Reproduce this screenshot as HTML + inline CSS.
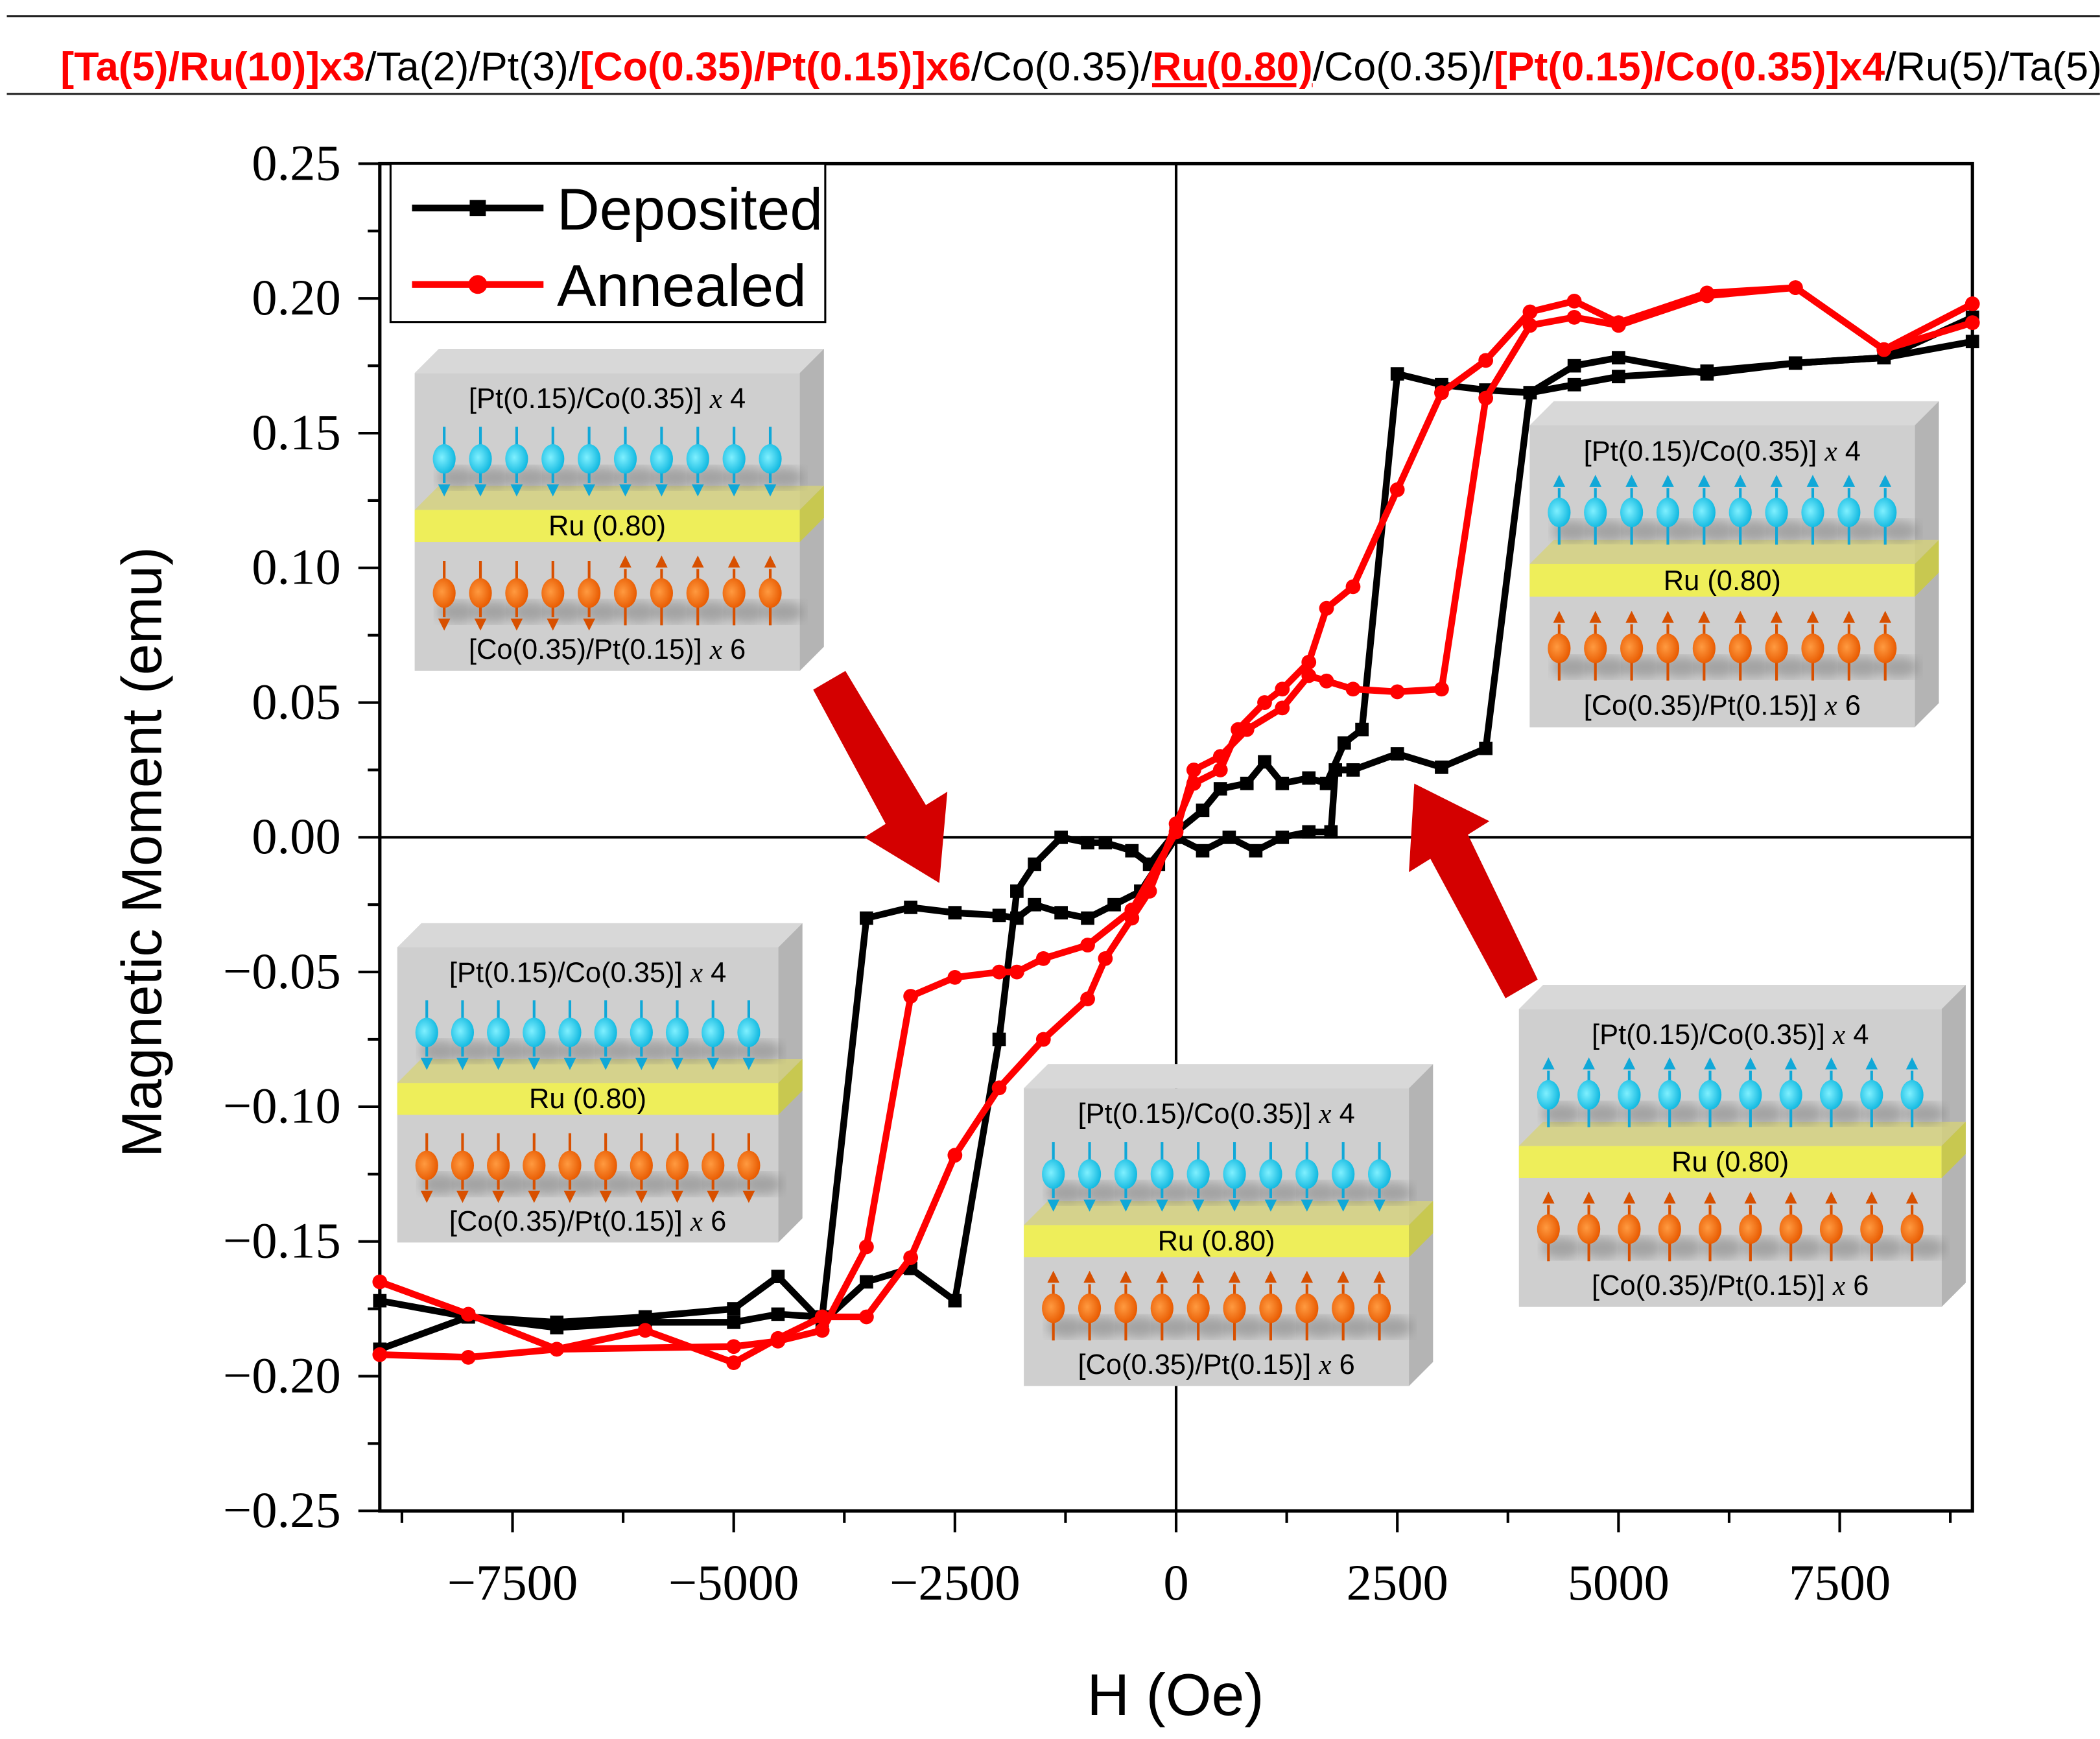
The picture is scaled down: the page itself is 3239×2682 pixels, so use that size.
<!DOCTYPE html>
<html><head><meta charset="utf-8"><style>html,body{margin:0;padding:0;background:#fff}svg{display:block}</style></head>
<body>
<svg id="fig" width="3239" height="2682" viewBox="0 0 1565 1296" xmlns="http://www.w3.org/2000/svg">
<defs>
<radialGradient id="gb" cx="0.4" cy="0.45" r="0.6"><stop offset="0" stop-color="#7ff0ff"/><stop offset="1" stop-color="#10b8e0"/></radialGradient>
<radialGradient id="go" cx="0.4" cy="0.45" r="0.6"><stop offset="0" stop-color="#ff9a40"/><stop offset="1" stop-color="#e85a00"/></radialGradient>
<filter id="blur"><feGaussianBlur stdDeviation="4"/></filter>
</defs>
<g>
<line x1="5" y1="12" x2="1565" y2="12" stroke="#222" stroke-width="1.5"/>
<line x1="5" y1="70" x2="1565" y2="70" stroke="#222" stroke-width="1.5"/>
<text x="45" y="60" font-family="Liberation Sans Narrow, Liberation Sans, sans-serif" font-size="30" textLength="1530" lengthAdjust="spacingAndGlyphs"><tspan fill="#f00" font-weight="bold">[Ta(5)/Ru(10)]x3</tspan><tspan>/Ta(2)/Pt(3)/</tspan><tspan fill="#f00" font-weight="bold">[Co(0.35)/Pt(0.15)]x6</tspan><tspan>/Co(0.35)/</tspan><tspan fill="#f00" font-weight="bold" text-decoration="underline">Ru(0.80)</tspan><tspan>/Co(0.35)/</tspan><tspan fill="#f00" font-weight="bold">[Pt(0.15)/Co(0.35)]x4</tspan><tspan>/Ru(5)/Ta(5)/</tspan></text>
</g>
<g id="axes"></g>
<g id="insets"></g>
<g id="series"></g>
<g id="legend">
<rect x="291" y="122" width="324" height="118" fill="#fff" stroke="#000" stroke-width="1.5"/>
<line x1="307" y1="155" x2="405" y2="155" stroke="#000" stroke-width="5"/>
<rect x="350" y="149" width="12" height="12" fill="#000"/>
<text x="415" y="171" font-family="Liberation Sans, sans-serif" font-size="44">Deposited</text>
<line x1="307" y1="212" x2="405" y2="212" stroke="#f00" stroke-width="5"/>
<circle cx="356" cy="212" r="7" fill="#f00"/>
<text x="415" y="228" font-family="Liberation Sans, sans-serif" font-size="44">Annealed</text>
</g>
<g fill="#d40000">
<polygon points="606,514 630,500 690,600 706,590 700,658 644,624 660,614"/>
<polygon points="1146,730 1122,744 1066,640 1050,650 1054,584 1110,612 1094,622"/>
</g>
<text transform="translate(120,635) rotate(-90)" text-anchor="middle" font-family="Liberation Sans, sans-serif" font-size="42">Magnetic Moment (emu)</text>
<text x="876" y="1278" text-anchor="middle" font-family="Liberation Sans, sans-serif" font-size="44">H (Oe)</text>
</svg>
<script>
const xTicks=[-7500,-5000,-2500,0,2500,5000,7500];
const xTickLabels=["\u22127500","\u22125000","\u22122500","0","2500","5000","7500"];
const yTicks=[-0.25,-0.2,-0.15,-0.1,-0.05,0,0.05,0.1,0.15,0.2,0.25];
const yTickLabels=["\u22120.25","\u22120.20","\u22120.15","\u22120.10","\u22120.05","0.00","0.05","0.10","0.15","0.20","0.25"];
const depA_H=[9000,8000,7000,6000,5000,4500,4000,3500,3000,2500,2100,1900,1700,1500,1200,1000,800,500,300,0,-300,-500,-800,-1000,-1300,-1600,-1800,-2000,-2500,-3000,-3500,-4000,-4500,-5000,-6000,-7000,-8000,-9000];
const depA_M=[0.193,0.178,0.176,0.172,0.178,0.175,0.165,0.166,0.168,0.172,0.04,0.035,0.02,0.022,0.02,0.028,0.02,0.018,0.01,0.002,-0.01,-0.005,-0.002,-0.002,0,-0.01,-0.02,-0.075,-0.172,-0.16,-0.165,-0.18,-0.163,-0.175,-0.178,-0.18,-0.178,-0.19];
const depB_H=[-9000,-8000,-7000,-6000,-5000,-4500,-4000,-3500,-3000,-2500,-2000,-1800,-1600,-1300,-1000,-700,-400,-200,0,300,600,900,1200,1500,1750,1800,2000,2500,3000,3500,4000,4500,5000,6000,7000,8000,9000];
const depB_M=[-0.172,-0.178,-0.182,-0.18,-0.18,-0.177,-0.178,-0.03,-0.026,-0.028,-0.029,-0.03,-0.025,-0.028,-0.03,-0.025,-0.02,-0.01,0,-0.005,0,-0.005,0,0.002,0.002,0.025,0.025,0.031,0.026,0.033,0.165,0.168,0.171,0.173,0.176,0.178,0.184];
const annA_H=[9000,8000,7000,6000,5000,4500,4000,3500,3000,2500,2000,1700,1500,1200,1000,700,500,200,0,-300,-500,-800,-1000,-1500,-2000,-2500,-3000,-3500,-4000,-4500,-5000,-6000,-7000,-8000,-9000];
const annA_M=[0.198,0.181,0.204,0.202,0.191,0.199,0.195,0.177,0.165,0.129,0.093,0.085,0.065,0.055,0.05,0.04,0.025,0.02,0.005,-0.02,-0.03,-0.045,-0.06,-0.075,-0.093,-0.118,-0.156,-0.178,-0.178,-0.186,-0.195,-0.183,-0.19,-0.193,-0.192];
const annB_H=[-9000,-8000,-7000,-5000,-4500,-4000,-3500,-3000,-2500,-2000,-1800,-1500,-1000,-500,0,200,500,800,1200,1500,1700,2000,2500,3000,3500,4000,4500,5000,6000,7000,8000,9000];
const annB_M=[-0.165,-0.177,-0.19,-0.189,-0.187,-0.183,-0.152,-0.059,-0.052,-0.05,-0.05,-0.045,-0.04,-0.027,0.002,0.025,0.03,0.04,0.048,0.06,0.058,0.055,0.054,0.055,0.163,0.19,0.193,0.19,0.201,0.204,0.181,0.191];

const NS='http://www.w3.org/2000/svg';
const L=283,R=1470,T=122,B=1126;
const sx=h=>L+(h+9000)/18000*(R-L);
const sy=m=>B-(m+0.25)/0.5*(B-T);
function mk(tag,attrs,parent){const e=document.createElementNS(NS,tag);for(const k in attrs)e.setAttribute(k,attrs[k]);parent.appendChild(e);return e;}
const ax=document.getElementById('axes');
for(let h=-8750;h<=8750;h+=1250){const x=sx(h);const major=xTicks.includes(h);const t=mk('line',{x1:x,y1:B,x2:x,y2:B+(major?16:9),stroke:'#000','stroke-width':2},ax);}
for(let i=0;i<=20;i++){const m=-0.25+i*0.025;const y=sy(m);const major=i%2==0;const t=mk('line',{x1:L,y1:y,x2:L-(major?16:9),y2:y,stroke:'#000','stroke-width':2},ax);}
xTicks.forEach((h,i)=>{const t=mk('text',{x:sx(h),y:1192,'text-anchor':'middle','font-family':'Liberation Serif, serif','font-size':38},ax);t.textContent=xTickLabels[i];});
yTicks.forEach((m,i)=>{const t=mk('text',{x:254,y:sy(m)+12,'text-anchor':'end','font-family':'Liberation Serif, serif','font-size':38},ax);t.textContent=yTickLabels[i];});
const fr=mk('rect',{x:L,y:T,width:R-L,height:B-T,fill:'none',stroke:'#000','stroke-width':2.5},ax);

const zx=mk('line',{x1:sx(0),y1:T,x2:sx(0),y2:B,stroke:'#000','stroke-width':2},ax);

const zy=mk('line',{x1:L,y1:sy(0),x2:R,y2:sy(0),stroke:'#000','stroke-width':2},ax);


const ins=document.getElementById('insets');
const insetDefs=[[309,260,287,222,-1,[-1,-1,-1,-1,-1,1,1,1,1,1]],[296,688,284,220,-1,[-1,-1,-1,-1,-1,-1,-1,-1,-1,-1]],[763,793,287,222,-1,[1,1,1,1,1,1,1,1,1,1]],[1140,299,287,225,1,[1,1,1,1,1,1,1,1,1,1]],[1132,734,315,222,1,[1,1,1,1,1,1,1,1,1,1]]];
insetDefs.forEach(d=>{
 const [x0,y0,W,H,up,low]=d;const D=18;const k=H/222;
 const g=mk('g',{transform:`translate(${x0},${y0})`},ins);
 
 mk('polygon',{points:`0,${D} ${D},0 ${W+D},0 ${W},${D}`,fill:'#d8d8d8'},g);
 mk('polygon',{points:`${W},${D} ${W+D},0 ${W+D},${H} ${W},${H+D}`,fill:'#b4b4b4'},g);
 mk('rect',{x:0,y:D,width:W,height:H,fill:'#cfcfcf'},g);
 const by=D+102*k,bh=24*k;
 mk('polygon',{points:`0,${by} ${D},${by-D} ${W+D},${by-D} ${W},${by}`,fill:'#d6d27a',opacity:0.8},g);
 mk('rect',{x:0,y:by,width:W,height:bh,fill:'#eeee5a'},g);
 mk('polygon',{points:`${W},${by} ${W+D},${by-D} ${W+D},${by-D+bh} ${W},${by+bh}`,fill:'#c8c850'},g);
 const rt=mk('text',{x:W/2,y:by+bh-5,'text-anchor':'middle','font-family':'Liberation Sans, sans-serif','font-size':21},g);rt.textContent='Ru (0.80)';
 const t1=mk('text',{x:W/2,y:D+26*k,'text-anchor':'middle','font-family':'Liberation Sans, sans-serif','font-size':21},g);t1.innerHTML='[Pt(0.15)/Co(0.35)] <tspan font-family="Liberation Serif, serif" font-style="italic">x</tspan> 4';
 const t2=mk('text',{x:W/2,y:D+213*k,'text-anchor':'middle','font-family':'Liberation Sans, sans-serif','font-size':21},g);t2.innerHTML='[Co(0.35)/Pt(0.15)] <tspan font-family="Liberation Serif, serif" font-style="italic">x</tspan> 6';
 const sp=(W-44)/9;
 for(let i=0;i<10;i++){
  const cx=22+i*sp;
  [[D+64*k,up,'url(#gb)','#10a8d8'],[D+164*k,low[i],'url(#go)','#d85000']].forEach(([cy,dir,fill,col])=>{
   const s=-dir;
   mk('ellipse',{cx:cx+10,cy:cy+14,rx:15,ry:8,fill:'#777',opacity:0.5,filter:'url(#blur)'},g);
   mk('line',{x1:cx,y1:cy-s*24,x2:cx,y2:cy+s*18,stroke:col,'stroke-width':2},g);
   const ty=cy+s*28;mk('polygon',{points:`${cx-4.5},${ty-s*9} ${cx+4.5},${ty-s*9} ${cx},${ty}`,fill:col},g);
   mk('ellipse',{cx:cx,cy:cy,rx:8.5,ry:11,fill:fill},g);
  });
 }
});

const sg=document.getElementById('series');
function drawSeries(H,M,color,marker,name){
 const pts=H.map((h,i)=>sx(h)+','+sy(M[i])).join(' ');
 const pl=mk('polyline',{points:pts,fill:'none',stroke:color,'stroke-width':5,'stroke-linejoin':'round'},sg);
 
 H.forEach((h,i)=>{let e;
  if(marker==='sq'){e=mk('rect',{x:sx(h)-5,y:sy(M[i])-5,width:10,height:10,fill:color},sg);}
  else{e=mk('circle',{cx:sx(h),cy:sy(M[i]),r:5.5,fill:color},sg);}
  });
}
drawSeries(depA_H,depA_M,'#000','sq','deposited-descending');
drawSeries(depB_H,depB_M,'#000','sq','deposited-ascending');
drawSeries(annA_H,annA_M,'#f00','ci','annealed-descending');
drawSeries(annB_H,annB_M,'#f00','ci','annealed-ascending');
</script>
</body></html>
